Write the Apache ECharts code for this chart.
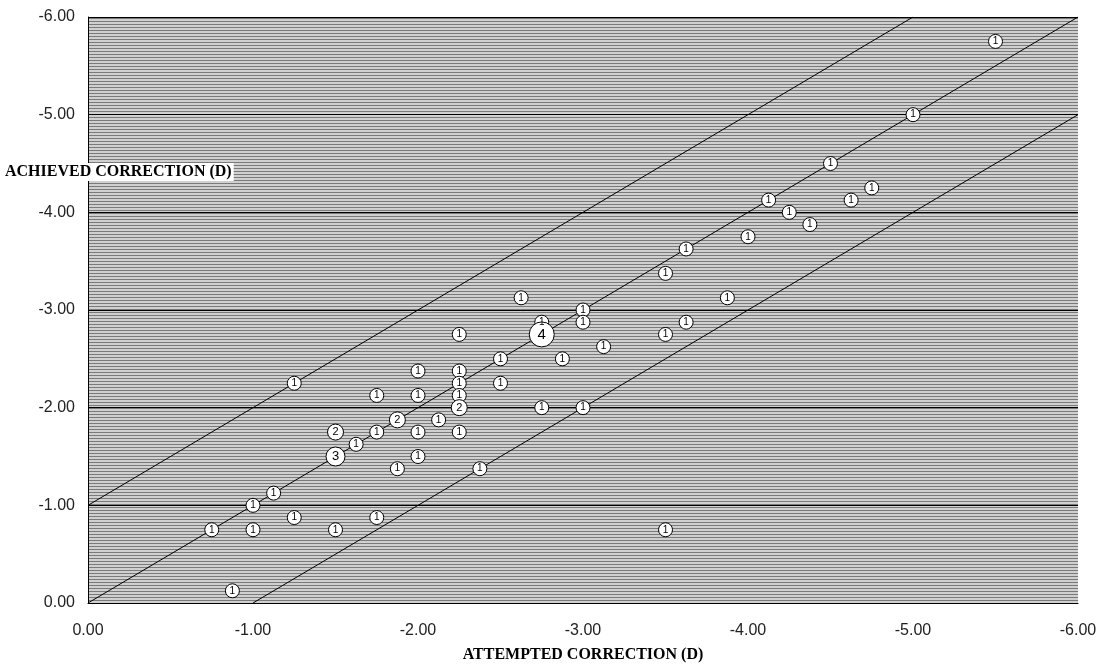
<!DOCTYPE html>
<html><head><meta charset="utf-8">
<script src="https://cdn.jsdelivr.net/npm/echarts@6/dist/echarts.min.js"></script>
<style>html,body{margin:0;padding:0;background:#fff}#c{width:1102px;height:668px}</style>
</head><body><div id="c"></div>
<script>
// Attempted vs achieved refractive correction (diopters); count = number of eyes at that point
const attempted = [-5.5, -5.0, -4.5, -4.75, -4.625, -4.125, -4.25, -4.375, -4.0, -3.625,
  -3.5, -3.875, -2.625, -3.0, -3.0, -2.75, -3.625, -3.5, -3.125, -2.25,
  -2.875, -2.5, -2.0, -2.25, -2.25, -2.5, -2.0, -2.25, -2.25, -2.75,
  -3.0, -1.875, -2.125, -2.0, -2.25, -1.25, -1.75, -1.5, -1.75, -1.5,
  -1.625, -1.875, -2.0, -2.375, -1.125, -1.0, -1.25, -0.75, -1.0, -1.5,
  -1.75, -0.875, -3.5, -2.75];
const achieved = [-5.75, -5.0, -4.5, -4.25, -4.125, -4.125, -4.0, -3.875, -3.75, -3.625,
  -3.375, -3.125, -3.125, -3.0, -2.875, -2.875, -2.875, -2.75, -2.625, -2.75,
  -2.5, -2.5, -2.375, -2.375, -2.25, -2.25, -2.125, -2.125, -2.0, -2.0,
  -2.0, -1.875, -1.875, -1.75, -1.75, -2.25, -2.125, -1.75, -1.75, -1.5,
  -1.625, -1.375, -1.5, -1.375, -1.125, -1.0, -0.875, -0.75, -0.75, -0.75,
  -0.875, -0.125, -0.75, -2.75];
const counts = [1, 1, 1, 1, 1, 1, 1, 1, 1, 1,
  1, 1, 1, 1, 1, 1, 1, 1, 1, 1,
  1, 1, 1, 1, 1, 1, 1, 1, 2, 1,
  1, 2, 1, 1, 1, 1, 1, 2, 1, 3,
  1, 1, 1, 1, 1, 1, 1, 1, 1, 1,
  1, 1, 1, 4];
// Reference lines: achieved = attempted - 1, = attempted, = attempted + 1
const upperLine = [[0, -1], [-5, -6]];
const equalLine = [[0, 0], [-6, -6]];
const lowerLine = [[-1, 0], [-6, -5]];
const axisMin = -6, axisMax = 0, axisStep = 1;
const xAxisTitle = 'ATTEMPTED CORRECTION (D)';
const yAxisTitle = 'ACHIEVED CORRECTION (D)';

const sizeFor = {1: 14, 2: 16, 3: 19, 4: 25};
const fontFor = {1: 10, 2: 11, 3: 13, 4: 15};

const pc = document.createElement('canvas');
pc.width = 4; pc.height = 3;
const g = pc.getContext('2d');
g.fillStyle = '#d0d0d0'; g.fillRect(0, 0, 4, 3);
g.fillStyle = '#7a7a7a'; g.fillRect(0, 0, 4, 1);

const points = attempted.map((x, i) => ({
  value: [x, achieved[i], counts[i]],
  symbolSize: sizeFor[counts[i]],
  label: {fontSize: fontFor[counts[i]]}
}));

const chart = echarts.init(document.getElementById('c'), null, {renderer: 'canvas'});
const lineSeries = (d) => ({
  type: 'line', data: d, symbol: 'none', silent: true, z: 2,
  lineStyle: {color: '#000', width: 1}, animation: false
});
chart.setOption({
  animation: false,
  backgroundColor: '#fff',
  grid: {left: 88, right: 24, top: 17, bottom: 60, show: true,
    backgroundColor: {image: pc, repeat: 'repeat'}, borderWidth: 0},
  xAxis: {
    type: 'value', min: axisMin, max: axisMax, interval: axisStep, inverse: true,
    name: xAxisTitle, nameLocation: 'middle', nameGap: 44,
    nameTextStyle: {fontFamily: 'Liberation Serif', fontWeight: 'bold', fontSize: 16, color: '#000'},
    axisLine: {show: true, lineStyle: {color: '#000', width: 1}},
    axisTick: {show: false},
    splitLine: {show: false},
    axisLabel: {formatter: v => v.toFixed(2), fontFamily: 'Liberation Sans', fontSize: 16, color: '#222', margin: 20}
  },
  yAxis: {
    type: 'value', min: axisMin, max: axisMax, interval: axisStep, inverse: true,
    axisLine: {show: true, lineStyle: {color: '#000', width: 1}},
    axisTick: {show: false},
    splitLine: {show: true, lineStyle: {color: '#000', width: 1}},
    axisLabel: {formatter: v => v.toFixed(2), fontFamily: 'Liberation Sans', fontSize: 16, color: '#222', margin: 13}
  },
  graphic: [{
    type: 'text', left: 3, top: 163, z: 100,
    style: {text: yAxisTitle, font: 'bold 16px "Liberation Serif"', fill: '#000',
      backgroundColor: '#fff', padding: [1, 2]}
  }],
  series: [
    lineSeries(upperLine), lineSeries(equalLine), lineSeries(lowerLine),
    {
      type: 'scatter', z: 5, data: points,
      itemStyle: {color: '#fff', borderColor: '#000', borderWidth: 1, opacity: 1},
      label: {show: true, position: 'inside', formatter: p => p.value[2],
        color: '#000', fontFamily: 'Liberation Sans'},
      emphasis: {disabled: true}
    }
  ]
});
</script></body></html>
